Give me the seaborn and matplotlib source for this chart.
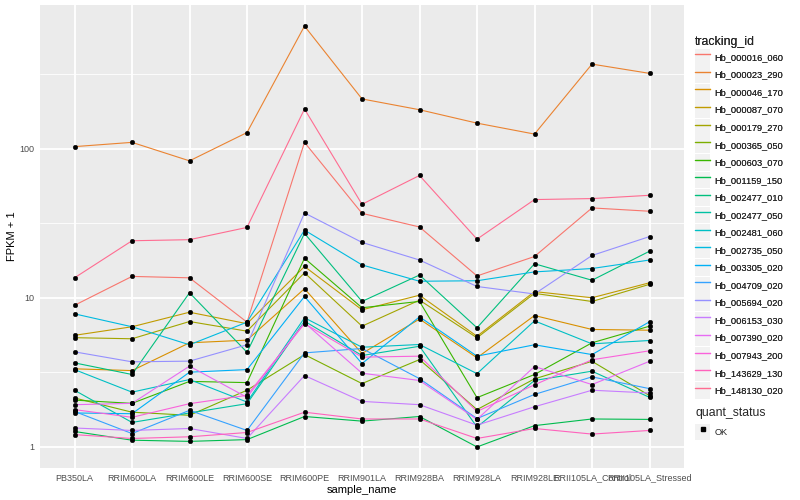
import numpy as np
import pandas as pd
import matplotlib
matplotlib.use('Agg')
import matplotlib.pyplot as plt
import seaborn as sns
from matplotlib.lines import Line2D
from matplotlib.patches import Rectangle
from matplotlib.legend_handler import HandlerTuple
from matplotlib.ticker import FixedLocator, NullFormatter

samples = ['PB350LA', 'RRIM600LA', 'RRIM600LE', 'RRIM600SE', 'RRIM600PE', 'RRIM901LA',
           'RRIM928BA', 'RRIM928LA', 'RRIM928LE', 'RRII105LA_Control', 'RRII105LA_Stressed']

# FPKM + 1 per gene, one value per sample
hb_000016_060 = [8.9, 13.9, 13.6, 6.86, 110, 36.8, 29.8, 14.0, 18.9, 40, 38]
hb_000023_290 = [103, 110, 82.7, 128, 662, 215, 182, 148, 125, 368, 319]
hb_000046_170 = [3.34, 3.25, 4.99, 5.2, 11.5, 4.23, 7.2, 3.96, 7.6, 6.13, 6.06]
hb_000087_070 = [5.6, 6.39, 8.0, 6.7, 16.2, 8.3, 10.4, 5.52, 11.0, 10.0, 12.6]
hb_000179_270 = [5.4, 5.31, 6.93, 5.97, 14.7, 6.45, 9.64, 5.39, 10.7, 9.44, 12.3]
hb_000365_050 = [2.13, 1.71, 1.63, 2.40, 4.16, 2.66, 3.85, 1.78, 2.86, 3.75, 2.21]
hb_000603_070 = [2.06, 1.96, 2.75, 2.70, 18.4, 8.57, 9.45, 2.14, 3.06, 4.99, 6.45]
hb_001159_150 = [1.27, 1.11, 1.09, 1.12, 1.60, 1.49, 1.60, 1.0, 1.39, 1.54, 1.53]
hb_002477_010 = [3.66, 3.06, 10.8, 4.31, 27.0, 9.45, 14.2, 6.29, 16.9, 13.1, 20.5]
hb_002477_050 = [2.4, 1.46, 1.69, 1.95, 6.97, 4.1, 4.73, 1.36, 2.79, 3.22, 2.15]
hb_002481_060 = [3.3, 2.33, 2.83, 2.0, 7.34, 4.66, 4.86, 3.10, 7.0, 4.91, 5.17]
hb_002735_050 = [7.8, 6.39, 4.84, 6.86, 28.4, 16.6, 12.9, 13.0, 14.9, 15.7, 17.9]
hb_003305_020 = [1.69, 1.67, 3.17, 3.30, 10.2, 3.62, 7.45, 4.06, 4.84, 4.16, 6.9]
hb_004709_020 = [1.73, 1.23, 1.76, 1.29, 4.27, 4.57, 2.87, 1.55, 2.25, 2.95, 2.46]
hb_005694_020 = [4.34, 3.72, 3.76, 4.84, 37, 23.5, 17.9, 11.9, 10.6, 19.2, 25.7]
hb_006153_030 = [1.34, 1.29, 1.33, 1.14, 3.01, 2.02, 1.92, 1.40, 1.86, 2.40, 2.30]
hb_007390_020 = [1.92, 1.96, 3.48, 2.15, 6.8, 3.12, 2.79, 1.53, 3.46, 2.62, 3.75]
hb_007943_200 = [1.78, 1.58, 1.95, 2.22, 6.7, 4.0, 4.06, 1.73, 2.61, 3.84, 4.41]
hb_143629_130 = [1.21, 1.14, 1.17, 1.25, 1.71, 1.54, 1.54, 1.14, 1.33, 1.22, 1.29]
hb_148130_020 = [13.6, 24.1, 24.5, 29.6, 184, 42.3, 66, 24.7, 45.5, 46.2, 48.6]

genes = {
    'Hb_000016_060': hb_000016_060, 'Hb_000023_290': hb_000023_290,
    'Hb_000046_170': hb_000046_170, 'Hb_000087_070': hb_000087_070,
    'Hb_000179_270': hb_000179_270, 'Hb_000365_050': hb_000365_050,
    'Hb_000603_070': hb_000603_070, 'Hb_001159_150': hb_001159_150,
    'Hb_002477_010': hb_002477_010, 'Hb_002477_050': hb_002477_050,
    'Hb_002481_060': hb_002481_060, 'Hb_002735_050': hb_002735_050,
    'Hb_003305_020': hb_003305_020, 'Hb_004709_020': hb_004709_020,
    'Hb_005694_020': hb_005694_020, 'Hb_006153_030': hb_006153_030,
    'Hb_007390_020': hb_007390_020, 'Hb_007943_200': hb_007943_200,
    'Hb_143629_130': hb_143629_130, 'Hb_148130_020': hb_148130_020,
}

# ggplot default hue palette for 20 levels
hue_cols = ['#F8766D', '#EA8331', '#D89000', '#C09B00', '#A3A500', '#7CAE00', '#39B600',
            '#00BB4E', '#00BF7D', '#00C1A3', '#00BFC4', '#00BAE0', '#00B0F6', '#35A2FF',
            '#9590FF', '#C77CFF', '#E76BF3', '#FA62DB', '#FF62BC', '#FF6C91']

rows = []
for gid, vals in genes.items():
    for s, v in zip(samples, vals):
        rows.append({'tracking_id': gid, 'sample_name': s, 'fpkm1': v, 'quant_status': 'OK'})
df = pd.DataFrame(rows)
ids = list(genes.keys())
pal = dict(zip(ids, hue_cols))

sns.set_theme(style='darkgrid')
plt.rcParams['font.family'] = ['Liberation Sans', 'DejaVu Sans']

fig = plt.figure(figsize=(8, 5), dpi=100)
ax = fig.add_axes([0.05, 0.064, 0.805, 0.926])
ax.set_facecolor('#EBEBEB')

sns.lineplot(data=df, x='sample_name', y='fpkm1', hue='tracking_id', palette=pal,
             estimator=None, sort=False, linewidth=0.8, legend=False, ax=ax)
sns.scatterplot(data=df, x='sample_name', y='fpkm1', color='black', s=11,
                marker='o', edgecolor='black', linewidth=0.3, legend=False, ax=ax, zorder=5)

ax.set_yscale('log')
ax.set_ylim(10 ** -0.141, 10 ** 2.962)
ax.set_xlim(-0.6, len(samples) - 0.4)
ax.yaxis.set_major_locator(FixedLocator([1, 10, 100]))
ax.set_yticklabels(['1', '10', '100'])
ax.yaxis.set_minor_locator(FixedLocator([10 ** 0.5, 10 ** 1.5, 10 ** 2.5]))
ax.yaxis.set_minor_formatter(NullFormatter())

ax.grid(which='major', color='white', linewidth=1.3)
ax.grid(which='minor', axis='y', color='white', linewidth=0.6)
ax.set_axisbelow(True)
for sp in ax.spines.values():
    sp.set_visible(False)

ax.tick_params(axis='both', which='major', length=2.5, width=0.6, color='#333333',
               labelsize=6.5, labelcolor='#4D4D4D', pad=1.5)
ax.tick_params(axis='y', which='minor', length=0)
ax.set_xlabel('sample_name', fontsize=8, color='black', labelpad=2)
ax.set_ylabel('FPKM + 1', fontsize=8, color='black', labelpad=2)

# legends
handles = [(Rectangle((0, 0), 1, 1, facecolor='#F2F2F2', edgecolor='none'),
            Line2D([], [], color=pal[g], linewidth=1.0)) for g in ids]
leg1 = fig.legend(handles, ids, title='tracking_id', loc='upper left',
                  bbox_to_anchor=(695 / 800, 1 - 36 / 500), frameon=False,
                  fontsize=6.7, title_fontsize=8.8, handlelength=1.62, handleheight=2.4,
                  labelspacing=0.08, handletextpad=0.5, borderpad=0, borderaxespad=0,
                  alignment='left', handler_map={tuple: HandlerTuple(ndivide=1)})
fig.add_artist(leg1)

ok_handle = [(Rectangle((0, 0), 1, 1, facecolor='#F2F2F2', edgecolor='none'),
              Line2D([], [], color='black', marker='s', markersize=2.3, linestyle='none'))]
fig.legend(ok_handle, ['OK'], title='quant_status', loc='upper left',
           bbox_to_anchor=(695 / 800, 1 - 407 / 500), frameon=False,
           fontsize=6.7, title_fontsize=8.8, handlelength=1.62, handleheight=2.4,
           handletextpad=0.5, borderpad=0, borderaxespad=0,
           alignment='left', handler_map={tuple: HandlerTuple(ndivide=1)})

fig.savefig('out.png', dpi=100, facecolor='white')
